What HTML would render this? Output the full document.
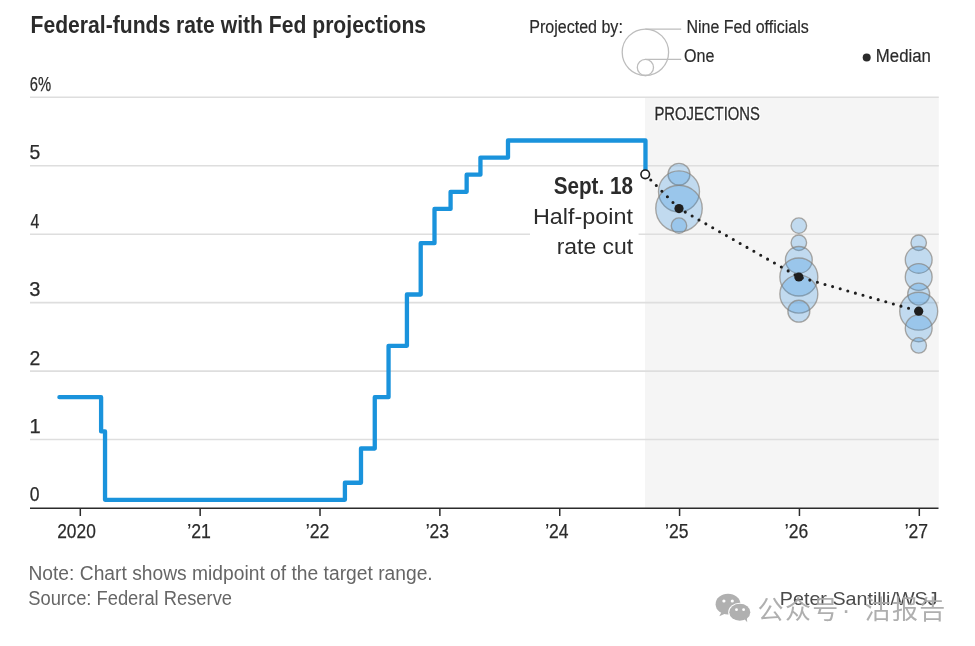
<!DOCTYPE html>
<html><head><meta charset="utf-8"><style>
html,body{margin:0;padding:0;background:#fff;width:975px;height:646px;overflow:hidden}
svg{display:block;will-change:transform}
text{font-family:"Liberation Sans","Noto Sans CJK SC",sans-serif}
</style></head><body>
<svg width="975" height="646" viewBox="0 0 975 646">
<rect x="0" y="0" width="975" height="646" fill="#fff"/>
<rect x="645" y="98" width="293.8" height="410" fill="#f5f5f5"/>
<g stroke="#dedede" stroke-width="1.6">
<line x1="30" x2="938.8" y1="439.55" y2="439.55"/>
<line x1="30" x2="938.8" y1="371.10" y2="371.10"/>
<line x1="30" x2="938.8" y1="302.65" y2="302.65"/>
<line x1="30" x2="938.8" y1="234.20" y2="234.20"/>
<line x1="30" x2="938.8" y1="165.75" y2="165.75"/>
<line x1="30" x2="938.8" y1="97.30" y2="97.30"/>
</g>
<rect x="530" y="172" width="108.6" height="88" fill="#fff"/>
<g fill="#2b2b2b">
<text x="30.56" y="32.80" font-size="23" font-weight="bold" textLength="395.55" lengthAdjust="spacingAndGlyphs">Federal-funds rate with Fed projections</text>
</g>
<g fill="#2b2b2b" stroke="#2b2b2b" stroke-width="0.2">
<text x="529.23" y="32.80" font-size="19.2" textLength="93.64" lengthAdjust="spacingAndGlyphs">Projected by:</text>
<text x="686.43" y="32.80" font-size="19.2" textLength="122.25" lengthAdjust="spacingAndGlyphs">Nine Fed officials</text>
<text x="683.96" y="62.40" font-size="19.2" textLength="30.41" lengthAdjust="spacingAndGlyphs">One</text>
<text x="875.85" y="62.40" font-size="19.2" textLength="55.07" lengthAdjust="spacingAndGlyphs">Median</text>
<text x="654.45" y="120.20" font-size="19.2" textLength="105.51" lengthAdjust="spacingAndGlyphs" stroke="#fff" stroke-width="3" stroke-linejoin="round">PROJECTIONS</text>
<g stroke="#2b2b2b" stroke-width="0.3"><text x="654.45" y="120.20" font-size="19.2" textLength="105.51" lengthAdjust="spacingAndGlyphs">PROJECTIONS</text></g>
</g>
<g fill="none" stroke="#bdbdbd" stroke-width="1.3">
<circle cx="645.4" cy="52.3" r="23.2"/>
<circle cx="645.4" cy="67.4" r="8.1"/>
<line x1="645.4" x2="681.2" y1="29.1" y2="29.1"/>
<line x1="645.4" x2="681.2" y1="59.3" y2="59.3"/>
</g>
<circle cx="866.7" cy="57.6" r="4" fill="#2b2b2b"/>
<g fill="#2b2b2b" stroke="#2b2b2b" stroke-width="0.25">
<text x="29.77" y="90.70" font-size="20.2" textLength="21.37" lengthAdjust="spacingAndGlyphs">6%</text>
<text x="29.54" y="159.15" font-size="20.2" textLength="10.80" lengthAdjust="spacingAndGlyphs">5</text>
<text x="30.50" y="227.60" font-size="20.2" textLength="8.83" lengthAdjust="spacingAndGlyphs">4</text>
<text x="29.21" y="296.05" font-size="20.2" textLength="11.17" lengthAdjust="spacingAndGlyphs">3</text>
<text x="29.54" y="364.50" font-size="20.2" textLength="10.80" lengthAdjust="spacingAndGlyphs">2</text>
<text x="29.6" y="432.95" font-size="20.2">1</text>
<text x="29.63" y="501.40" font-size="20.2" textLength="9.77" lengthAdjust="spacingAndGlyphs">0</text>
<text x="57.24" y="537.70" font-size="20.2" textLength="38.55" lengthAdjust="spacingAndGlyphs">2020</text>
<text x="187.22" y="537.70" font-size="20.2" textLength="23.61" lengthAdjust="spacingAndGlyphs">’21</text>
<text x="305.83" y="537.70" font-size="20.2" textLength="23.50" lengthAdjust="spacingAndGlyphs">’22</text>
<text x="425.74" y="537.70" font-size="20.2" textLength="23.29" lengthAdjust="spacingAndGlyphs">’23</text>
<text x="545.13" y="537.70" font-size="20.2" textLength="23.40" lengthAdjust="spacingAndGlyphs">’24</text>
<text x="665.02" y="537.70" font-size="20.2" textLength="23.40" lengthAdjust="spacingAndGlyphs">’25</text>
<text x="784.87" y="537.70" font-size="20.2" textLength="23.40" lengthAdjust="spacingAndGlyphs">’26</text>
<text x="904.73" y="537.70" font-size="20.2" textLength="23.40" lengthAdjust="spacingAndGlyphs">’27</text>
</g>
<g stroke="#2b2b2b" stroke-width="1.5">
<line x1="30" x2="938.5" y1="508.25" y2="508.25"/>
<line x1="80.30" x2="80.30" y1="508.25" y2="516"/>
<line x1="200.16" x2="200.16" y1="508.25" y2="516"/>
<line x1="320.01" x2="320.01" y1="508.25" y2="516"/>
<line x1="439.87" x2="439.87" y1="508.25" y2="516"/>
<line x1="559.73" x2="559.73" y1="508.25" y2="516"/>
<line x1="679.58" x2="679.58" y1="508.25" y2="516"/>
<line x1="799.44" x2="799.44" y1="508.25" y2="516"/>
<line x1="919.30" x2="919.30" y1="508.25" y2="516"/>
</g>
<polyline points="59.40,397.17 101.10,397.17 101.10,431.39 105.03,431.39 105.03,499.84 344.91,499.84 344.91,482.73 360.99,482.73 360.99,448.51 374.77,448.51 374.77,397.17 388.56,397.17 388.56,345.83 406.93,345.83 406.93,294.49 420.71,294.49 420.71,243.16 434.50,243.16 434.50,208.93 450.58,208.93 450.58,191.82 466.66,191.82 466.66,174.71 480.44,174.71 480.44,157.59 508.00,157.59 508.00,140.48 645.48,140.48 645.48,170.01" fill="none" stroke="#1a93dc" stroke-width="4.3" stroke-linejoin="round" stroke-linecap="round"/>
<g fill="rgb(40,140,222)" fill-opacity="0.25" stroke="#86817c" stroke-opacity="0.68" stroke-width="1.35">
<circle cx="678.99" cy="174.31" r="10.96"/>
<circle cx="678.99" cy="191.42" r="20.50"/>
<circle cx="678.99" cy="208.53" r="23.25"/>
<circle cx="678.99" cy="225.64" r="7.75"/>
<circle cx="798.84" cy="225.64" r="7.75"/>
<circle cx="798.84" cy="242.76" r="7.75"/>
<circle cx="798.84" cy="259.87" r="13.42"/>
<circle cx="798.84" cy="276.98" r="18.98"/>
<circle cx="798.84" cy="294.09" r="18.98"/>
<circle cx="798.84" cy="311.21" r="10.96"/>
<circle cx="918.70" cy="242.76" r="7.75"/>
<circle cx="918.70" cy="259.87" r="13.42"/>
<circle cx="918.70" cy="276.98" r="13.42"/>
<circle cx="918.70" cy="294.09" r="10.96"/>
<circle cx="918.70" cy="311.21" r="18.98"/>
<circle cx="918.70" cy="328.32" r="13.42"/>
<circle cx="918.70" cy="345.43" r="7.75"/>
</g>
<path d="M645.23,174.31 L678.99,208.53 L798.84,276.98 L918.70,311.21" fill="none" stroke="#1e1e1e" stroke-width="3.1" stroke-linecap="round" stroke-dasharray="0 7.9"/>
<g fill="#1e1e1e">
<circle cx="678.99" cy="208.53" r="4.6"/>
<circle cx="798.84" cy="276.98" r="4.6"/>
<circle cx="918.70" cy="311.21" r="4.6"/>
</g>
<circle cx="645.23" cy="174.31" r="4.3" fill="#fff" stroke="#1e1e1e" stroke-width="1.6"/>
<g fill="#2b2b2b">
<text x="553.70" y="194.20" font-size="23" font-weight="bold" textLength="79.30" lengthAdjust="spacingAndGlyphs">Sept. 18</text>
<text x="532.98" y="224.30" font-size="22" textLength="99.99" lengthAdjust="spacingAndGlyphs">Half-point</text>
<text x="556.72" y="254.30" font-size="22" textLength="76.48" lengthAdjust="spacingAndGlyphs">rate cut</text>
</g>
<g fill="#666">
<text x="28.43" y="579.70" font-size="19.5" textLength="404.28" lengthAdjust="spacingAndGlyphs">Note: Chart shows midpoint of the target range.</text>
<text x="28.26" y="605.10" font-size="19.5" textLength="203.77" lengthAdjust="spacingAndGlyphs">Source: Federal Reserve</text>
</g>
<g fill="#4a4a4a">
<text x="779.83" y="604.90" font-size="19" textLength="157.66" lengthAdjust="spacingAndGlyphs">Peter Santilli/WSJ</text>
</g>
<g fill="#b0b0b0">
<ellipse cx="728" cy="604.2" rx="12.4" ry="10.4"/>
<path d="M721.5,612 L719.3,616.2 L725.5,613.5 Z"/>
<ellipse cx="739.8" cy="612.3" rx="11.6" ry="9.6" fill="#fff"/>
<ellipse cx="739.8" cy="612.3" rx="10.5" ry="8.5"/>
<path d="M744,618.5 L747.2,622.2 L746.8,617 Z"/>
</g>
<g fill="#fff">
<circle cx="723.9" cy="601" r="1.6"/><circle cx="732.3" cy="601" r="1.6"/>
<circle cx="736.5" cy="609.7" r="1.4"/><circle cx="743.6" cy="609.7" r="1.4"/>
</g>
<g font-size="26" letter-spacing="1.3" fill="#a8a8a8" fill-opacity="0.92" style="font-family:'Noto Sans CJK SC',sans-serif">
<text x="757.6" y="618.7">公众号</text>
<text x="846.7" y="618.7" text-anchor="middle">·</text>
<text x="864.6" y="618.7">沽报告</text>
</g>
</svg>
</body></html>
